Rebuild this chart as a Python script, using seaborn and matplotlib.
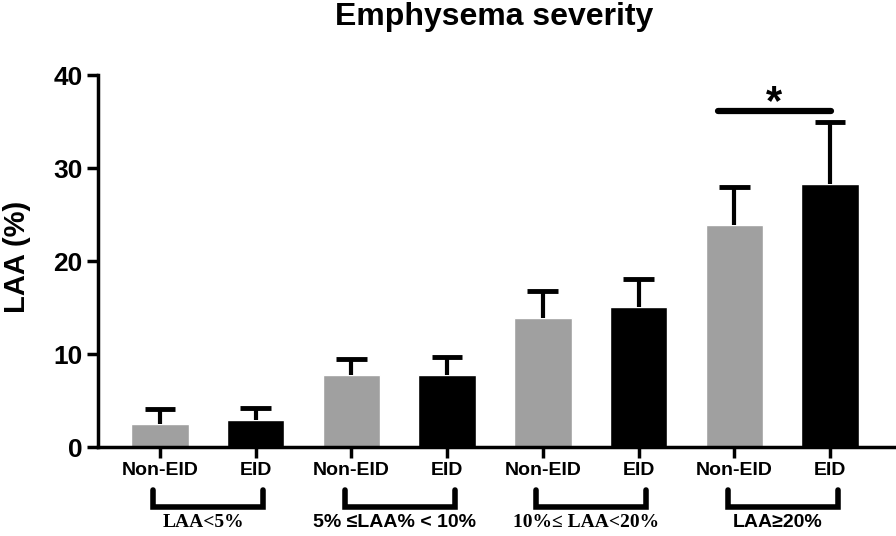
""" Emphysema severity bar chart (LAA %) by EID status. """

import matplotlib as mpl
mpl.use("Agg")
import matplotlib.pyplot as plt
import matplotlib.transforms as mtransforms
import pandas as pd
import seaborn as sns

# Data
groups = ["LAA<5%", "5% \u2264LAA% < 10%", "10%\u2264 LAA<20%", "LAA\u226520%"]
conditions = ["Non-EID", "EID"]
non_eid_mean = [2.5, 7.7, 13.9, 23.9]
non_eid_sd = [1.6, 1.8, 2.9, 4.1]
eid_mean = [2.9, 7.7, 15.1, 28.3]
eid_sd = [1.3, 2.0, 3.0, 6.7]
y_ticks = [0, 10, 20, 30, 40]


def main():
    sns.set_style("white")
    plt.rcParams['font.family'] = ['Liberation Sans', 'DejaVu Sans']
    plt.rcParams['text.color'] = 'black'
    plt.rcParams['axes.labelcolor'] = 'black'
    plt.rcParams['xtick.color'] = 'black'
    plt.rcParams['ytick.color'] = 'black'

    rows = []
    for g, nm, ns, em, es in zip(groups, non_eid_mean, non_eid_sd, eid_mean, eid_sd):
        rows.append({"group": g, "cond": "Non-EID", "mean": nm, "sd": ns})
        rows.append({"group": g, "cond": "EID", "mean": em, "sd": es})
    df = pd.DataFrame(rows)
    df["key"] = df["group"] + " " + df["cond"]

    colors = ["#a0a0a0" if c == "Non-EID" else "#000000" for c in df["cond"]]

    fig = plt.figure(figsize=(8.96, 5.36), dpi=100)
    ax = fig.add_axes([0.109, 0.166, 0.89, 0.694])

    sns.barplot(data=df, x="key", y="mean", hue="key", palette=colors,
                width=0.6, legend=False, ax=ax, errorbar=None, saturation=1)

    # upper-only error bars (SD)
    xs = list(range(len(df)))
    top = df["mean"] + df["sd"]
    ax.vlines(xs, df["mean"], top, color="black", lw=3, zorder=1)
    ax.hlines(top, [x - 0.16 for x in xs], [x + 0.16 for x in xs],
              color="black", lw=3.5, zorder=1)

    ax.set_ylim(0, 40)
    ax.set_xlim(-0.65, 7.68)
    ax.set_yticks(y_ticks)
    ax.set_xticks(xs)
    ax.set_xticklabels(list(df["cond"]), fontsize=14, fontweight="bold")
    ax.tick_params(axis="y", labelsize=19, length=8, width=2.5, direction="out", left=True, pad=3)
    ax.tick_params(axis="x", length=8, width=2.5, direction="out", bottom=True, pad=3)
    for lab in ax.get_yticklabels():
        lab.set_fontweight("bold")
    ax.set_xlabel("")
    ax.set_ylabel("LAA (%)", fontsize=21, fontweight="bold")
    ax.yaxis.set_label_coords(-0.083, 0.51)
    for s in ["top", "right"]:
        ax.spines[s].set_visible(False)
    for s in ["left", "bottom"]:
        ax.spines[s].set_linewidth(2.5)
        ax.spines[s].set_color("black")

    fig.text(494 / 896, 1 - 25 / 536, "Emphysema severity", ha="center", va="baseline",
             fontsize=23, fontweight="bold")

    # group brackets below the tick labels
    trans = mtransforms.blended_transform_factory(ax.transData, ax.transAxes)
    label_fonts = ["serif", "sans", "serif", "sans"]
    for i, g in enumerate(groups):
        x0 = 2 * i - 0.07
        x1 = 2 * i + 1.08
        ax.plot([x0, x0, x1, x1], [-0.115, -0.162, -0.162, -0.115], color="black",
                lw=4, transform=trans, clip_on=False, solid_joinstyle="miter")
        fam = ['Liberation Serif', 'DejaVu Serif'] if label_fonts[i] == "serif" \
            else ['Liberation Sans', 'DejaVu Sans']
        ax.text(2 * i + 0.45, -0.202, g, transform=trans, ha="center", va="center",
                fontsize=14, fontweight="bold", family=fam)

    # significance marker
    ax.plot([5.83, 7.01], [36.1, 36.1], color="black", lw=4.5, clip_on=False)
    ax.text(6.42, 34.8, "*", ha="center", va="bottom", fontsize=30, fontweight="bold")

    fig.savefig("out.png", dpi=100)


if __name__ == "__main__":
    main()
